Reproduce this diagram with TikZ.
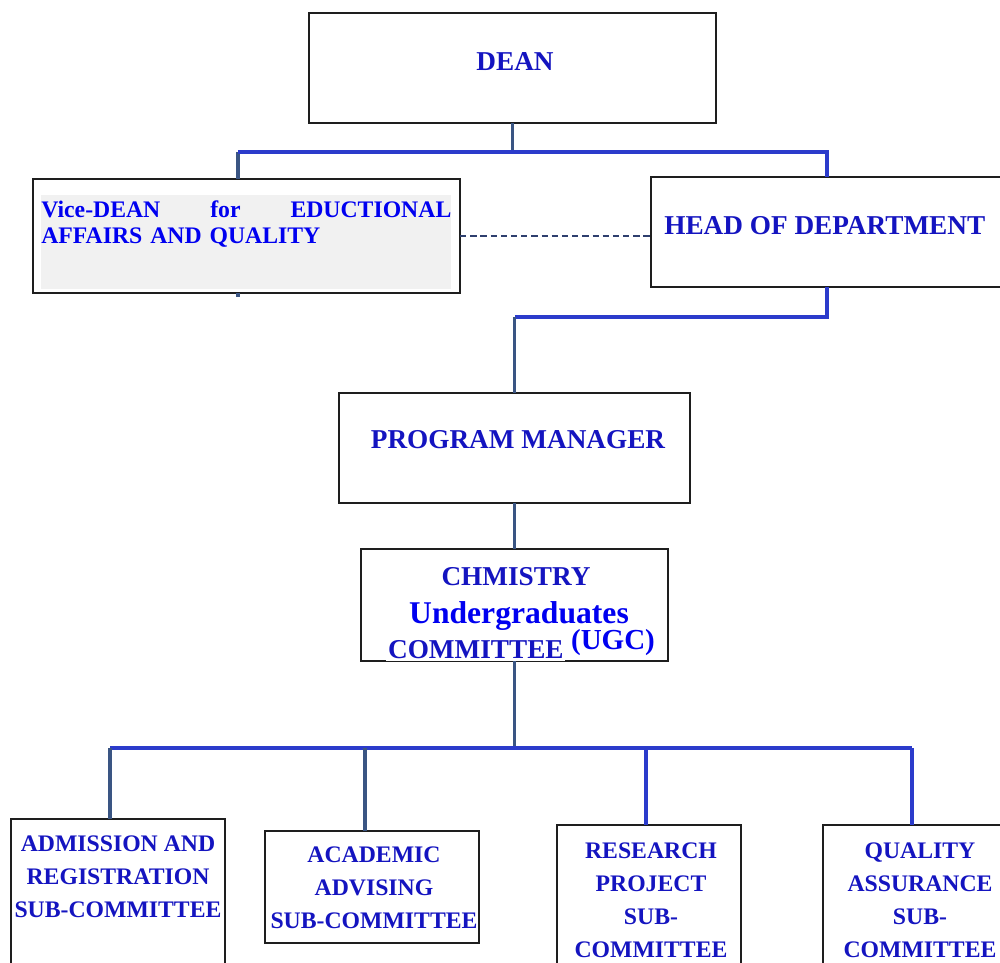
\documentclass[tikz,border=0pt]{standalone}
\usepackage{fontspec}
\setmainfont{Liberation Serif}
\definecolor{boxc}{HTML}{1E1E1E}
\definecolor{lineblue}{HTML}{2B3BCB}
\definecolor{linenavy}{HTML}{3A5583}
\definecolor{dashc}{HTML}{2E3F6E}
\definecolor{titleblue}{HTML}{1414C0}
\definecolor{vdblue}{HTML}{0000F0}
\definecolor{grayfill}{HTML}{F1F1F1}
\begin{document}
\begin{tikzpicture}[x=0.2mm,y=-0.2mm,
  box/.style={draw=boxc, line width=1.1pt, fill=white, inner sep=0pt, outer sep=0pt},
  bluel/.style={draw=lineblue, line width=1.8pt},
  navyl/.style={draw=linenavy, line width=1.8pt},
  dashl/.style={draw=dashc, line width=1.6pt, dash pattern=on 3.6pt off 2.2pt},
  title/.style={text=titleblue, font=\bfseries\fontsize{15.5}{18}\selectfont, inner sep=0pt},
  sub/.style={text=titleblue, font=\bfseries\fontsize{13.5}{18.7}\selectfont, align=center, inner sep=0pt}]
\useasboundingbox (0,0) rectangle (1000,962);
\clip (0,0) rectangle (1000,962);
% boxes
\node[box, minimum width=407*0.2mm, minimum height=110*0.2mm] (dean) at (512.5,68) {};
\node[box, minimum width=427*0.2mm, minimum height=114*0.2mm] (vd) at (246.5,236) {};
\fill[grayfill] (41,195) rectangle (451,289);
\node[box, minimum width=359*0.2mm, minimum height=110*0.2mm] (hod) at (830.5,232) {};
\node[box, minimum width=351*0.2mm, minimum height=110*0.2mm] (pm) at (514.5,448) {};
\node[box, minimum width=307*0.2mm, minimum height=112*0.2mm] (ugc) at (514.5,605) {};
\node[box, minimum width=214*0.2mm, minimum height=181*0.2mm] (adm) at (118,909.5) {};
\node[box, minimum width=214*0.2mm, minimum height=112*0.2mm] (aca) at (372,887) {};
\node[box, minimum width=184*0.2mm, minimum height=175*0.2mm] (res) at (649,912.5) {};
\node[box, minimum width=187*0.2mm, minimum height=175*0.2mm] (qa) at (916.5,912.5) {};
% helper coordinates
\coordinate (bar1) at (0,152);
\coordinate (bar2) at (0,317);
\coordinate (bar3) at (0,748);
\coordinate (dy) at (0,236);
\coordinate (vdx) at (238,0);
\coordinate (hodx) at (827,0);
\coordinate (admx) at (110,0);
\coordinate (acax) at (365,0);
\coordinate (resx) at (646,0);
\coordinate (qax) at (912,0);
% connectors
\draw[navyl] (dean.south) -- (dean.south |- bar1);
\draw[navyl] (vd.north -| vdx) -- (bar1 -| vdx);
\draw[bluel] (bar1 -| vdx) -- (bar1 -| hodx) -- (hod.north -| hodx);
\draw[navyl] (vd.south -| vdx) -- ++(0,4);
\draw[dashl] (vd.east |- dy) -- (hod.west |- dy);
\draw[bluel] (hod.south -| hodx) -- (bar2 -| hodx) -- (bar2 -| pm.north);
\draw[navyl] (bar2 -| pm.north) -- (pm.north);
\draw[navyl] (pm.south) -- (ugc.north);
\draw[navyl] (ugc.south) -- (ugc.south |- bar3);
\draw[bluel] (bar3 -| admx) -- (bar3 -| qax);
\draw[navyl] (bar3 -| admx) -- (adm.north -| admx);
\draw[navyl] (bar3 -| acax) -- (aca.north -| acax);
\draw[bluel] (bar3 -| resx) -- (res.north -| resx);
\draw[bluel] (bar3 -| qax) -- (qa.north -| qax);
% texts
\node[title] (tdean) at (515,62) {DEAN};
\node[anchor=north west, inner sep=0pt, text=vdblue, font=\bfseries\fontsize{13.5}{15.3}\selectfont, text width=410*0.2mm] (tvd) at (41,200) {Vice-DEAN\hfill for\hfill EDUCTIONAL\\AFFAIRS AND QUALITY};
\node[title, anchor=west] (thod) at (664,226) {HEAD OF DEPARTMENT};
\node[title] (tpm) at (518,440) {PROGRAM MANAGER};
\node[title] (tchm) at (516,577) {CHMISTRY};
\node[inner sep=0pt, text=vdblue, font=\bfseries\fontsize{18}{20}\selectfont] (tund) at (519,616) {Undergraduates};
\node[title, anchor=west, fill=white, inner sep=1pt] (tcom) at (386,650) {COMMITTEE};
\node[inner sep=0pt, text=vdblue, font=\bfseries\fontsize{16.5}{18}\selectfont] (tugc) at (613,643) {(UGC)};
\node[sub] (tadm) at (118,877) {ADMISSION AND\\REGISTRATION\\SUB-COMMITTEE};
\node[sub] (taca) at (374,888) {ACADEMIC\\ADVISING\\SUB-COMMITTEE};
\node[sub] (tres) at (651,900) {RESEARCH\\PROJECT\\SUB-\\COMMITTEE};
\node[sub] (tqa) at (920,900) {QUALITY\\ASSURANCE\\SUB-\\COMMITTEE};
\end{tikzpicture}
\end{document}
